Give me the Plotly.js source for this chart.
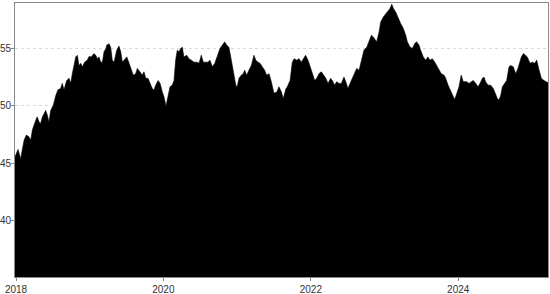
<!DOCTYPE html>
<html>
<head>
<meta charset="utf-8">
<script src="https://cdn.plot.ly/plotly-3.0.1.min.js"></script>
<style>html,body{margin:0;padding:0;background:#fff;}#chart{width:550px;height:294px;}</style>
</head>
<body>
<div id="chart"></div>
<script>
const dates = [
"2017-12-27","2018-01-11","2018-01-24","2018-02-10","2018-02-21","2018-03-06","2018-03-15","2018-03-23","2018-04-09","2018-04-16",
"2018-04-25","2018-05-03","2018-05-11","2018-05-28","2018-06-05","2018-06-13","2018-06-22","2018-07-05","2018-07-17","2018-07-28",
"2018-08-10","2018-08-18","2018-08-27","2018-09-09","2018-09-21","2018-09-29","2018-10-07","2018-10-15","2018-10-24","2018-11-01",
"2018-11-09","2018-11-18","2018-11-26","2018-12-07","2018-12-20","2018-12-29","2019-01-09","2019-01-22","2019-01-31","2019-02-08",
"2019-02-16","2019-02-25","2019-03-05","2019-03-13","2019-03-23","2019-03-26","2019-04-07","2019-04-15","2019-04-23","2019-05-02",
"2019-05-15","2019-05-26","2019-06-04","2019-06-12","2019-06-24","2019-07-04","2019-07-10","2019-07-23","2019-08-05","2019-08-17",
"2019-08-25","2019-09-07","2019-09-19","2019-09-27","2019-10-06","2019-10-17","2019-10-27","2019-11-07","2019-11-16","2019-11-24",
"2019-12-06","2019-12-16","2019-12-27","2020-01-04","2020-01-14","2020-01-24","2020-02-03","2020-02-14","2020-02-23","2020-03-02",
"2020-03-10","2020-03-19","2020-03-27","2020-04-04","2020-04-12","2020-04-26","2020-05-07","2020-05-19","2020-06-01","2020-06-17",
"2020-06-26","2020-07-07","2020-07-17","2020-07-29","2020-08-09","2020-08-19","2020-08-31","2020-09-12","2020-09-24","2020-10-08",
"2020-10-19","2020-10-31","2020-11-10","2020-11-21","2020-11-30","2020-12-08","2020-12-16","2020-12-25","2021-01-01","2021-01-10",
"2021-01-21","2021-01-31","2021-02-07","2021-02-17","2021-02-28","2021-03-12","2021-03-25","2021-04-03","2021-04-14","2021-04-24",
"2021-05-05","2021-05-17","2021-05-27","2021-06-08","2021-06-19","2021-07-02","2021-07-16","2021-07-27","2021-08-08","2021-08-17",
"2021-08-31","2021-09-06","2021-09-20","2021-10-01","2021-10-10","2021-10-23","2021-11-03","2021-11-15","2021-11-25","2021-12-06",
"2021-12-18","2021-12-28","2022-01-08","2022-01-20","2022-01-30","2022-02-10","2022-02-22","2022-03-04","2022-03-16","2022-03-27",
"2022-04-09","2022-04-17","2022-04-29","2022-05-09","2022-05-21","2022-06-01","2022-06-14","2022-06-23","2022-07-04","2022-07-14",
"2022-07-25","2022-08-06","2022-08-16","2022-08-28","2022-09-08","2022-09-21","2022-10-05","2022-10-16","2022-10-28","2022-11-06",
"2022-11-23","2022-12-05","2022-12-13","2022-12-26","2023-01-07","2023-01-18","2023-01-28","2023-02-06","2023-02-14","2023-02-25",
"2023-03-09","2023-03-22","2023-04-04","2023-04-16","2023-04-24","2023-05-07","2023-05-19","2023-05-31","2023-06-09","2023-06-21",
"2023-06-29","2023-07-12","2023-07-24","2023-08-04","2023-08-14","2023-08-26","2023-09-07","2023-09-17","2023-09-28","2023-10-09",
"2023-10-23","2023-10-31","2023-11-12","2023-11-25","2023-12-08","2023-12-15","2023-12-25","2024-01-05","2024-01-16","2024-01-26",
"2024-02-12","2024-02-24","2024-03-06","2024-03-16","2024-03-28","2024-04-08","2024-04-18","2024-04-30","2024-05-08","2024-05-16",
"2024-05-28","2024-06-10","2024-06-23","2024-07-05","2024-07-13","2024-07-21","2024-07-30","2024-08-07","2024-08-19","2024-08-28",
"2024-09-09","2024-09-17","2024-09-30","2024-10-12","2024-10-23","2024-11-02","2024-11-09","2024-11-19","2024-12-01","2024-12-08",
"2024-12-22","2025-01-02","2025-01-14","2025-01-24","2025-02-05","2025-02-16","2025-03-01","2025-03-15","2025-03-21"
];
const values = [
45.57,46.2,45.4,47.0,47.45,47.3,47.0,47.9,48.75,49.04,
48.6,48.47,49.0,49.6,49.2,48.6,49.6,50.05,50.9,51.4,
51.5,51.95,51.4,52.2,52.4,51.95,52.8,53.5,54.26,54.4,
53.5,53.7,53.4,53.8,53.97,54.3,54.26,54.55,54.4,54.1,
54.26,53.8,53.8,54.7,55.0,55.28,55.4,55.1,53.97,53.8,
54.84,55.2,54.7,53.8,54.1,54.26,53.97,53.25,52.67,52.8,
53.25,52.96,52.67,52.96,52.4,52.4,51.95,51.5,51.37,51.8,
52.2,51.95,51.2,50.8,49.97,50.8,51.65,51.8,52.2,53.97,
54.84,54.7,55.0,55.1,54.26,54.4,54.1,53.97,53.8,53.8,
53.7,54.4,53.8,53.8,53.8,53.97,53.4,53.7,54.4,55.0,
55.28,55.57,55.28,55.1,54.26,53.4,52.67,51.8,51.65,52.4,
52.67,52.8,53.1,52.67,53.1,53.5,54.4,53.97,53.8,53.7,
53.4,53.1,52.67,52.8,52.1,51.1,51.2,51.65,51.2,50.64,
51.5,51.65,52.2,53.8,54.1,53.97,54.1,53.8,54.1,54.4,
53.97,53.4,52.67,52.2,52.4,52.8,52.96,52.67,52.4,51.95,
52.4,52.2,51.8,52.1,51.95,51.95,52.5,52.1,51.5,51.95,
52.4,52.96,53.25,53.1,53.97,54.84,55.1,55.7,56.15,56.0,
55.57,56.43,57.3,57.74,58.03,58.3,58.47,58.84,58.47,58.17,
57.6,57.17,56.73,56.15,55.57,55.13,55.0,55.43,55.57,55.28,
54.84,54.26,53.97,54.26,53.97,54.1,53.8,53.5,53.25,52.8,
52.67,52.4,51.8,51.37,50.8,50.56,51.1,51.65,52.67,52.1,
52.1,51.95,52.1,52.2,51.95,51.65,51.95,52.4,52.5,52.1,
51.8,51.8,51.5,50.93,50.64,50.5,50.93,51.65,51.95,52.2,
53.4,53.5,53.4,52.8,53.25,53.8,54.26,54.55,54.4,54.26,
53.7,53.8,53.7,53.97,53.1,52.4,52.2,52.1,52.0
];
const yTicks = [40, 45, 50, 55];
const xTicks = ["2018-01-01","2020-01-01","2022-01-01","2024-01-01"];
const xTickText = ["2018","2020","2022","2024"];

const fontFam = '"Liberation Sans Narrow", "Arial Narrow", "Liberation Sans", Arial, sans-serif';
Plotly.newPlot('chart', [{
  x: dates, y: values, type: 'scatter', mode: 'lines',
  fill: 'tozeroy', fillcolor: '#000000',
  line: {color: '#000000', width: 0.6},
  hoverinfo: 'skip'
}], {
  width: 550, height: 294,
  margin: {l: 15, r: 2, t: 3, b: 17, pad: 0},
  paper_bgcolor: '#ffffff', plot_bgcolor: '#ffffff',
  showlegend: false,
  font: {family: fontFam, size: 10, color: '#333333'},
  xaxis: {
    type: 'date', range: [dates[0], dates[dates.length - 1]],
    tickmode: 'array', tickvals: xTicks, ticktext: xTickText,
    showgrid: false, zeroline: false,
    showline: true, mirror: true, linecolor: '#888888', linewidth: 1,
    ticks: 'outside', ticklen: 3, tickcolor: '#888888',
    tickfont: {family: fontFam, size: 10, color: '#333333'}
  },
  yaxis: {
    range: [35.1, 58.95],
    tickmode: 'array', tickvals: yTicks,
    showgrid: true, gridcolor: '#d9d9d9', griddash: 'dot', gridwidth: 1,
    zeroline: false,
    showline: true, mirror: true, linecolor: '#888888', linewidth: 1,
    ticks: 'outside', ticklen: 3, tickcolor: '#888888',
    ticklabelstandoff: -2,
    tickfont: {family: fontFam, size: 10, color: '#333333'},
    layer: 'above traces'
  }
}, {displayModeBar: false, staticPlot: true});
</script>
</body>
</html>
